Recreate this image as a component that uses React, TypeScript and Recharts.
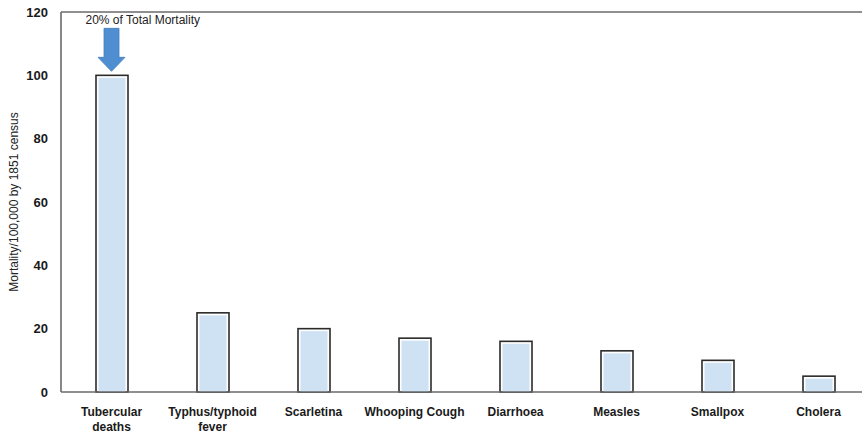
import React from "react";
import { BarChart, Bar, XAxis, YAxis, ReferenceLine, ReferenceDot } from "recharts";

const categories = [
  "Tubercular deaths",
  "Typhus/typhoid fever",
  "Scarletina",
  "Whooping Cough",
  "Diarrhoea",
  "Measles",
  "Smallpox",
  "Cholera",
];
const mortality = [100, 25, 20, 17, 16, 13, 10, 5];
const yTicks = [0, 20, 40, 60, 80, 100, 120];
const yLabel = "Mortality/100,000 by 1851 census";
const annotation = "20% of Total Mortality";

const data = categories.map((c, i) => ({ name: c, value: mortality[i] }));

const FONT = "'Liberation Sans', Arial, sans-serif";

function wrap(s: string): string[] {
  if (s.length <= 15) return [s];
  const i = s.lastIndexOf(" ");
  return i > 0 ? [s.slice(0, i), s.slice(i + 1)] : [s];
}

const XTick = (props: any) => {
  const { x, payload } = props;
  const lines = wrap(payload.value);
  const base = 416;
  return (
    <text x={x} y={base} textAnchor="middle" fontFamily={FONT} fontSize={12} fontWeight="bold" fill="#1a1a1a">
      {lines.map((l, i) => (
        <tspan key={i} x={x} y={base + i * 15}>
          {l}
        </tspan>
      ))}
    </text>
  );
};

const BarShape = (props: any) => {
  const { x, y, width, height } = props;
  if (height <= 0) return null;
  return (
    <g>
      <rect x={x} y={y} width={width} height={height} fill="#ffffff" stroke="#2b2b2b" strokeWidth={1.6} />
      <rect x={x + 2.5} y={y + 2.5} width={width - 5} height={Math.max(0, height - 2.5)} fill="#cfe2f4" />
    </g>
  );
};

const ArrowShape = (props: any) => {
  const { cx, cy } = props;
  const tip = cy - 4;
  const headBase = tip - 14;
  const shaftTop = tip - 43;
  const path = `M ${cx - 7.5} ${shaftTop} L ${cx + 7.5} ${shaftTop} L ${cx + 7.5} ${headBase} L ${cx + 13.5} ${headBase} L ${cx} ${tip} L ${cx - 13.5} ${headBase} L ${cx - 7.5} ${headBase} Z`;
  return (
    <g>
      <text x={cx - 26} y={shaftTop - 4} fontFamily={FONT} fontSize={12} fill="#222">
        {annotation}
      </text>
      <path d={path} fill="#4f8fd1" stroke="#3f7cbd" strokeWidth={0.8} />
    </g>
  );
};

const YLabel = (props: any) => {
  const vb = props.viewBox || { x: 0, y: 12, width: 61, height: 380 };
  const cx = 15;
  const cy = vb.y + vb.height / 2;
  return (
    <text
      x={cx}
      y={cy}
      transform={`rotate(-90 ${cx} ${cy})`}
      textAnchor="middle"
      dominantBaseline="middle"
      fontFamily={FONT}
      fontSize={12}
      fill="#222"
    >
      {yLabel}
    </text>
  );
};

export default function App() {
  return (
    <div style={{ position: "fixed", left: 0, top: 0, width: 862, height: 435, overflow: "hidden", background: "#fff" }}>
      <BarChart width={880} height={435} data={data} margin={{ top: 12, right: 11, bottom: 0, left: 0 }} barCategoryGap={0}>
        <XAxis
          dataKey="name"
          height={43}
          tickLine={false}
          axisLine={{ stroke: "#6a6a6a", strokeWidth: 1.6 }}
          tick={<XTick />}
          interval={0}
        />
        <YAxis
          width={61}
          domain={[0, 120]}
          ticks={yTicks}
          tickLine={false}
          tickSize={0}
          tickMargin={13}
          axisLine={{ stroke: "#6a6a6a", strokeWidth: 1.6 }}
          tick={{ fontFamily: FONT, fontSize: 13, fontWeight: "bold", fill: "#1a1a1a" }}
          label={<YLabel />}
        />
        <ReferenceLine y={120} stroke="#6a6a6a" strokeWidth={1.6} />
        <Bar dataKey="value" barSize={32} shape={<BarShape />} isAnimationActive={false} />
        <ReferenceDot x={categories[0]} y={mortality[0]} shape={<ArrowShape />} ifOverflow="visible" />
      </BarChart>
    </div>
  );
}
